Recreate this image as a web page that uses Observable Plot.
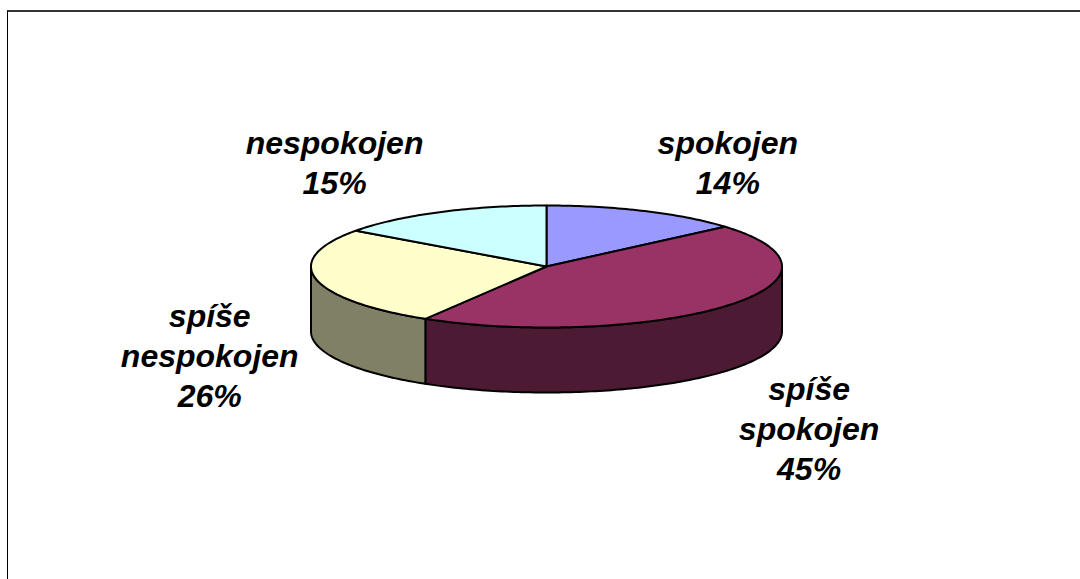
<!DOCTYPE html>
<html>
<head>
<meta charset="utf-8">
<script src="https://cdn.jsdelivr.net/npm/d3@7"></script>
<script src="https://cdn.jsdelivr.net/npm/@observablehq/plot@0.6"></script>
<style>
html,body{margin:0;padding:0;background:#fff;overflow:hidden}
#frame{position:absolute;left:7px;top:10px;width:1073px;height:569px;border-top:2px solid #333;border-left:1px solid #000;box-sizing:border-box}
#chart{position:absolute;left:0;top:0}
</style>
</head>
<body>
<div id="frame"></div>
<div id="chart"></div>
<script>
const categories = ["spokojen", "spíše spokojen", "spíše nespokojen", "nespokojen"];
const labelLines = ["spokojen", "spíše\nspokojen", "spíše\nnespokojen", "nespokojen"];
const values = [13.7, 44.9, 26.4, 15];
const topColors = ["#9999FF", "#993366", "#FFFFCC", "#CCFFFF"];
const sideColors = ["#4D4D80", "#4D1A33", "#808066", "#668080"];
const labelX = [0.77, 1.115, -1.43, -0.9];
const labelY = [1.73, -2.63, -1.44, 1.73];

const depth = 65 / 61; // pie thickness, in units of the vertical radius
const total = d3.sum(values);
const ends = d3.cumsum(values).map(v => v / total * 2 * Math.PI);
const starts = [0, ...ends.slice(0, -1)];
const mapPt = (t, dz = 0) => ({x: Math.sin(t), y: Math.cos(t) - dz});
const arc = (a, b, dz = 0) => {
  const n = Math.max(2, Math.ceil((b - a) / (Math.PI / 180)));
  return d3.range(n + 1).map(i => mapPt(a + (b - a) * i / n, dz));
};

const sides = [];
const tops = [];
categories.forEach((c, i) => {
  const a = starts[i], b = ends[i];
  // only the front half of the rim (from 90° to 270°) faces the viewer
  const fa = Math.max(a, Math.PI / 2), fb = Math.min(b, 3 * Math.PI / 2);
  if (fb > fa) {
    const upper = arc(fa, fb, 0);
    const lower = arc(fa, fb, depth).reverse();
    [...upper, ...lower, upper[0]].forEach(p => sides.push({...p, id: c, fill: sideColors[i]}));
  }
  [{x: 0, y: 0}, ...arc(a, b), {x: 0, y: 0}].forEach(p => tops.push({...p, id: c, fill: topColors[i]}));
});

const labels = categories.map((c, i) => ({
  x: labelX[i], y: labelY[i],
  text: `${labelLines[i]}\n${Math.round(values[i] / total * 100)}%`
}));

const plot = Plot.plot({
  width: 1080, height: 579,
  margin: 0,
  style: {background: "transparent"},
  x: {domain: [-1, 1], range: [310.5, 781.5], axis: null},
  y: {domain: [1, -1], range: [205, 327], axis: null},
  color: {type: "identity"},
  marks: [
    Plot.line(sides, {x: "x", y: "y", z: "id", fill: "fill", stroke: "#000", strokeWidth: 2, strokeLinejoin: "round", curve: "linear"}),
    Plot.line(tops, {x: "x", y: "y", z: "id", fill: "fill", stroke: "#000", strokeWidth: 2, strokeLinejoin: "round", curve: "linear"}),
    Plot.text(labels, {x: "x", y: "y", text: "text", fontFamily: "Liberation Sans", fontWeight: "bold", fontStyle: "italic", fontSize: 32, lineHeight: 1.25, fill: "#000", textAnchor: "middle"})
  ]
});
document.getElementById("chart").append(plot);
</script>
</body>
</html>
